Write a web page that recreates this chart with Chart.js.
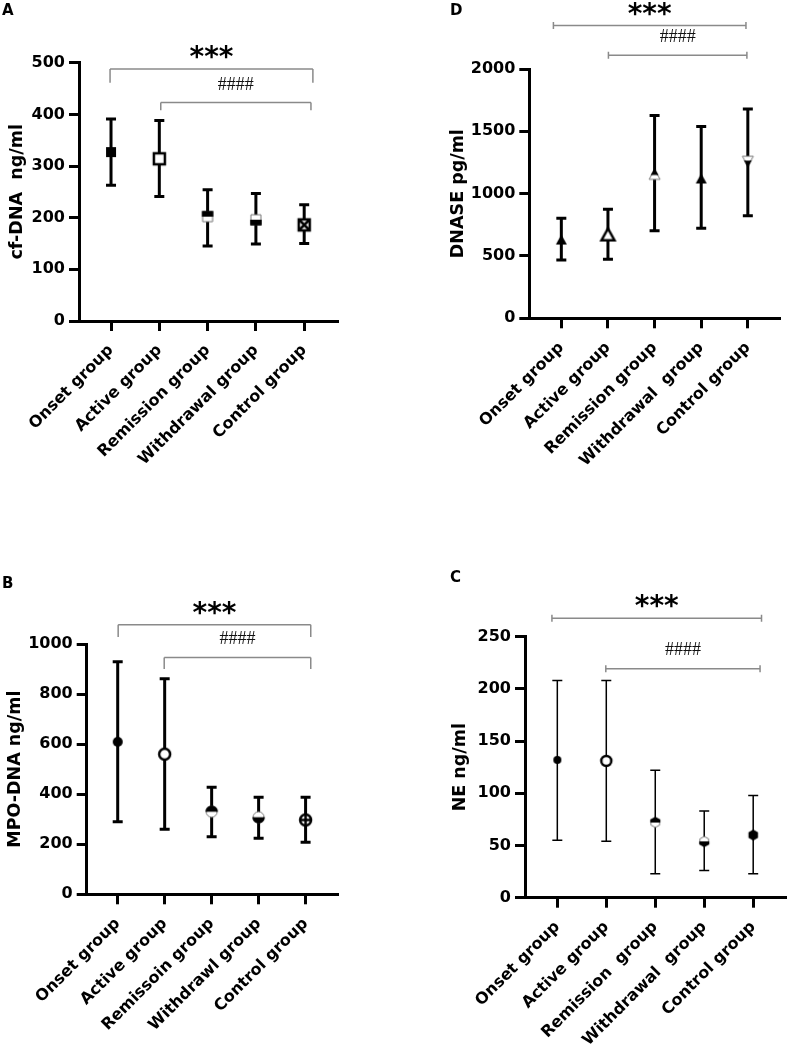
<!DOCTYPE html>
<html>
<head>
<meta charset="utf-8">
<script src="https://cdn.jsdelivr.net/npm/chart.js@4.4.1/dist/chart.umd.min.js"></script>
<style>
  body { margin: 0; background: #fff; }
  #page { position: relative; width: 787px; height: 1046px; overflow: hidden; background: #fff; }
  .panel { position: absolute; }
  .tag { position: absolute; font: bold 15px "DejaVu Sans"; color: #000; line-height: 1; }
</style>
</head>
<body>
<div id="page">
  <div class="panel" style="left:0;top:0"><canvas id="chartA" width="393" height="520"></canvas></div>
  <div class="panel" style="left:393px;top:0"><canvas id="chartD" width="394" height="520"></canvas></div>
  <div class="panel" style="left:0;top:523px"><canvas id="chartB" width="393" height="523"></canvas></div>
  <div class="panel" style="left:393px;top:523px"><canvas id="chartC" width="394" height="523"></canvas></div>
  <div class="tag" style="left:2px;top:3px">A</div>
  <div class="tag" style="left:450px;top:3px">D</div>
  <div class="tag" style="left:2px;top:576px">B</div>
  <div class="tag" style="left:450px;top:570px">C</div>
</div>
<script>
// groups (labels differ a little between panels, as in the figure)
const groupsA = ['Onset group', 'Active group', 'Remission group', 'Withdrawal group', 'Control group'];
const groupsD = ['Onset group', 'Active group', 'Remission group', 'Withdrawal  group', 'Control group'];
const groupsB = ['Onset group', 'Active group', 'Remissoin group', 'Withdrawl group', 'Control group'];
const groupsC = ['Onset group', 'Active group', 'Remission  group', 'Withdrawal  group', 'Control group'];

// A: cf-DNA ng/ml
const cfDnaMean = [327, 314, 202, 196, 186];
const cfDnaLow  = [263, 241, 145, 149, 150];
const cfDnaHigh = [391, 388, 254, 247, 225];

// D: DNASE pg/ml
const dnaseMean = [628, 668, 1150, 1118, 1265];
const dnaseLow  = [468, 473, 703, 722, 823];
const dnaseHigh = [802, 875, 1626, 1538, 1680];

// B: MPO-DNA ng/ml
const mpoMean = [609, 560, 330, 308, 297];
const mpoLow  = [290, 260, 230, 224, 208];
const mpoHigh = [929, 861, 428, 388, 388];

// C: NE ng/ml
const neMean = [132, 131, 72, 54, 60];
const neLow  = [55, 54, 23, 26, 23];
const neHigh = [208, 208, 122, 83, 98];

// significance brackets (x in group index, y in axis units)
const cfDnaSig = [
  { from: -0.02, to: 4.18, y: 488, legTo: 461, text: '***', textY: 521 },
  { from: 1.03, to: 4.14, y: 423, legTo: 408, text: '####', textY: 459 }
];
const dnaseSig = [
  { from: -0.17, to: 3.96, y: 2348, text: '***', textY: 2481 },
  { from: 1.01, to: 3.98, y: 2111, text: '####', textY: 2262 }
];
const mpoSig = [
  { from: 0.01, to: 4.11, y: 1077, legTo: 1028, text: '***', textY: 1145 },
  { from: 0.99, to: 4.11, y: 946, legTo: 900, text: '####', textY: 1025 }
];
const neSig = [
  { from: -0.11, to: 4.17, y: 267.6, text: '***', textY: 284 },
  { from: 0.99, to: 4.14, y: 219.3, text: '####', textY: 238.2 }
];

const FONT = 'DejaVu Sans';

// little canvases used as point styles
function marker(shape, fill, size, border) {
  const pad = 3;
  const c = document.createElement('canvas');
  c.width = c.height = Math.ceil(size + pad * 2);
  const g = c.getContext('2d');
  const m = c.width / 2, r = size / 2;
  const path = () => {
    g.beginPath();
    if (shape === 'square') g.rect(m - r, m - r, size, size);
    else if (shape === 'circle') g.arc(m, m, r, 0, Math.PI * 2);
    else if (shape === 'triUp') { g.moveTo(m, m - r); g.lineTo(m + r, m + r * 0.8); g.lineTo(m - r, m + r * 0.8); g.closePath(); }
    else if (shape === 'triDown') { g.moveTo(m, m + r); g.lineTo(m + r, m - r * 0.8); g.lineTo(m - r, m - r * 0.8); g.closePath(); }
    else if (shape === 'hex') {
      for (let k = 0; k < 6; k++) {
        const a = Math.PI / 6 + k * Math.PI / 3;
        const px = m + r * Math.cos(a), py = m + r * Math.sin(a);
        k ? g.lineTo(px, py) : g.moveTo(px, py);
      }
      g.closePath();
    }
  };
  if (fill === 'solid') {
    path(); g.fillStyle = '#000'; g.fill();
  } else if (fill === 'open') {
    path(); g.fillStyle = '#fff'; g.fill();
    g.lineWidth = border; g.strokeStyle = '#000'; g.stroke();
  } else if (fill === 'topHalf' || fill === 'bottomHalf') {
    path(); g.fillStyle = '#fff'; g.fill();
    g.lineWidth = 1; g.strokeStyle = '#777'; g.stroke();
    g.save();
    g.beginPath();
    if (fill === 'topHalf') g.rect(0, 0, c.width, m); else g.rect(0, m, c.width, m);
    g.clip();
    path(); g.fillStyle = '#000'; g.fill();
    g.lineWidth = 1.5; g.strokeStyle = '#000'; g.stroke();
    g.restore();
  } else if (fill === 'cross') {
    path(); g.fillStyle = '#fff'; g.fill();
    g.lineWidth = border; g.strokeStyle = '#000'; g.stroke();
    g.beginPath();
    if (shape === 'square') { g.moveTo(m - r, m - r); g.lineTo(m + r, m + r); g.moveTo(m + r, m - r); g.lineTo(m - r, m + r); }
    else { g.moveTo(m - r, m); g.lineTo(m + r, m); g.moveTo(m, m - r); g.lineTo(m, m + r); }
    g.stroke();
  }
  return c;
}

function errorBars(low, high, lineWidth, capWidth) {
  return {
    id: 'errorBars',
    beforeDatasetsDraw(chart) {
      const { ctx, scales: { x, y } } = chart;
      ctx.save();
      ctx.strokeStyle = '#000';
      ctx.lineWidth = lineWidth;
      ctx.lineCap = 'butt';
      low.forEach((lo, i) => {
        const px = x.getPixelForValue(i);
        const yLo = y.getPixelForValue(lo);
        const yHi = y.getPixelForValue(high[i]);
        ctx.beginPath();
        ctx.moveTo(px, yLo); ctx.lineTo(px, yHi);
        ctx.moveTo(px - capWidth / 2, yLo); ctx.lineTo(px + capWidth / 2, yLo);
        ctx.moveTo(px - capWidth / 2, yHi); ctx.lineTo(px + capWidth / 2, yHi);
        ctx.stroke();
      });
      ctx.restore();
    }
  };
}

function sigBrackets(marks) {
  return {
    id: 'sigBrackets',
    afterDraw(chart) {
      const { ctx, scales: { x, y } } = chart;
      ctx.save();
      ctx.strokeStyle = '#8a8a8a';
      ctx.lineWidth = 1.5;
      marks.forEach(b => {
        const x1 = x.getPixelForValue(b.from), x2 = x.getPixelForValue(b.to);
        const py = y.getPixelForValue(b.y);
        ctx.beginPath();
        ctx.moveTo(x1, py); ctx.lineTo(x2, py);
        if (b.legTo !== undefined) {
          const ly = y.getPixelForValue(b.legTo);
          ctx.moveTo(x1, py); ctx.lineTo(x1, ly);
          ctx.moveTo(x2, py); ctx.lineTo(x2, ly);
        } else {
          ctx.moveTo(x1, py - 3.5); ctx.lineTo(x1, py + 3.5);
          ctx.moveTo(x2, py - 3.5); ctx.lineTo(x2, py + 3.5);
        }
        ctx.stroke();

        const cx = (x1 + x2) / 2, cy = y.getPixelForValue(b.textY);
        ctx.textAlign = 'center';
        ctx.textBaseline = 'alphabetic';
        if (b.text === '***') {
          ctx.fillStyle = '#000';
          ctx.font = `bold 28px "${FONT}"`;
          ctx.fillText(b.text, cx, cy + 0.5 * 28);
        } else {
          ctx.fillStyle = '#111';
          ctx.font = '18px "Liberation Serif"';
          ctx.fillText(b.text, cx, cy + 0.34 * 18);
        }
      });
      ctx.restore();
    }
  };
}

function makePanel(p) {
  const c = document.getElementById(p.id);
  const W = c.width, H = c.height;
  return new Chart(c, {
    type: 'scatter',
    data: {
      datasets: [{
        data: p.mean.map((v, i) => ({ x: i, y: v })),
        pointStyle: p.markers,
        pointRadius: 6,
        showLine: false,
        clip: false
      }]
    },
    options: {
      responsive: false,
      animation: false,
      events: [],
      layout: {
        autoPadding: false,
        padding: { top: p.area.top, left: 0, right: W - p.area.right, bottom: 0 }
      },
      plugins: { legend: { display: false }, tooltip: { enabled: false } },
      scales: {
        x: {
          type: 'linear',
          min: p.xMin, max: p.xMax,
          afterBuildTicks: s => { s.ticks = p.groups.map((g, i) => ({ value: i })); },
          afterFit: s => { s.height = H - p.area.bottom; },
          ticks: {
            callback: v => p.groups[Math.round(v)],
            autoSkip: false, maxRotation: 45, minRotation: 45,
            padding: 10,
            color: '#000',
            font: { family: FONT, weight: 'bold', size: 16 }
          },
          grid: { drawOnChartArea: false, color: '#000', tickLength: 10, tickWidth: 3 },
          border: { color: '#000', width: 3 }
        },
        y: {
          min: 0, max: p.yMax,
          afterFit: s => { s.width = p.area.left; },
          ticks: {
            stepSize: p.yStep, padding: 4, color: '#000',
            callback: v => String(v),
            font: { family: FONT, weight: 'bold', size: 16 }
          },
          grid: { drawOnChartArea: false, color: '#000', tickLength: 10, tickWidth: 3 },
          border: { color: '#000', width: 3 },
          title: {
            display: true, text: p.title, color: '#000',
            font: { family: FONT, weight: 'bold', size: 17.5 },
            padding: { top: p.titlePad, bottom: 0 }
          }
        }
      }
    },
    plugins: [errorBars(p.low, p.high, p.barWidth, 10), sigBrackets(p.sig)]
  });
}

makePanel({
  id: 'chartA', groups: groupsA, mean: cfDnaMean, low: cfDnaLow, high: cfDnaHigh, sig: cfDnaSig,
  title: 'cf-DNA  ng/ml', titlePad: 7, yMax: 500, yStep: 100, xMin: -0.663, xMax: 4.70,
  area: { left: 79, right: 338, top: 62.7, bottom: 321 }, barWidth: 3,
  markers: [marker('square', 'solid', 10), marker('square', 'open', 11, 2.5), marker('square', 'topHalf', 10),
            marker('square', 'bottomHalf', 10), marker('square', 'cross', 11, 2.5)]
});

makePanel({
  id: 'chartD', groups: groupsD, mean: dnaseMean, low: dnaseLow, high: dnaseHigh, sig: dnaseSig,
  title: 'DNASE pg/ml', titlePad: 54.5, yMax: 2000, yStep: 500, xMin: -0.687, xMax: 4.69,
  area: { left: 136.3, right: 387, top: 69, bottom: 318.3 }, barWidth: 3,
  markers: [marker('triUp', 'solid', 11), marker('triUp', 'open', 13, 2.5), marker('triUp', 'topHalf', 11),
            marker('triUp', 'solid', 11), marker('triDown', 'bottomHalf', 11)]
});

makePanel({
  id: 'chartB', groups: groupsB, mean: mpoMean, low: mpoLow, high: mpoHigh, sig: mpoSig,
  title: 'MPO-DNA ng/ml', titlePad: 4.5, yMax: 1000, yStep: 200, xMin: -0.66, xMax: 4.69,
  area: { left: 86.7, right: 338, top: 121, bottom: 371.3 }, barWidth: 3,
  markers: [marker('circle', 'solid', 10), marker('circle', 'open', 11, 2.5), marker('circle', 'topHalf', 11),
            marker('circle', 'bottomHalf', 11), marker('circle', 'cross', 11, 2.5)]
});

makePanel({
  id: 'chartC', groups: groupsC, mean: neMean, low: neLow, high: neHigh, sig: neSig,
  title: 'NE ng/ml', titlePad: 56.5, yMax: 250, yStep: 50, xMin: -0.66, xMax: 4.68,
  area: { left: 132, right: 393.5, top: 113.7, bottom: 374.7 }, barWidth: 1.5,
  markers: [marker('circle', 'solid', 8), marker('circle', 'open', 10, 2.5), marker('hex', 'topHalf', 10),
            marker('hex', 'bottomHalf', 10), marker('hex', 'solid', 11)]
});
</script>
</body>
</html>
